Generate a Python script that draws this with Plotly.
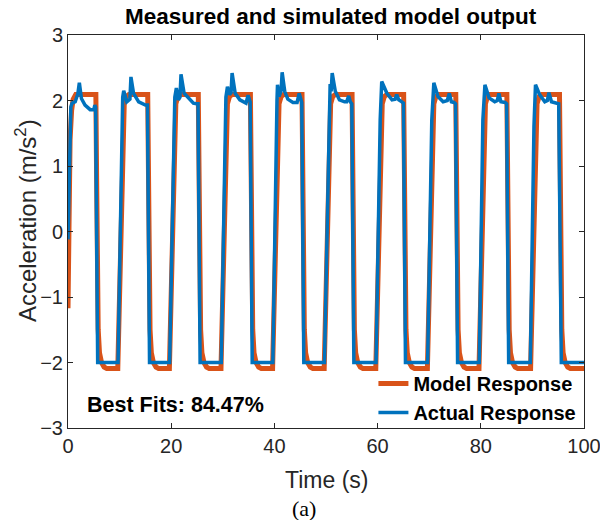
import plotly.graph_objects as go

# ---- data ----
t_model = [0.0, 0.15, 0.4, 0.7, 1.0, 1.5, 5.4, 5.55, 5.7, 5.85, 6.1, 6.5, 7.0, 7.5,
           9.65, 10.1, 10.4, 10.6, 10.9, 11.3, 11.8, 15.45, 15.6, 15.75, 15.9, 16.15, 16.55, 17.05, 17.55,
           19.65, 20.1, 20.4, 20.6, 20.9, 21.3, 21.8, 25.25, 25.4, 25.55, 25.7, 25.95, 26.35, 26.85, 27.35,
           29.65, 30.1, 30.4, 30.6, 30.9, 31.3, 31.8, 35.35, 35.5, 35.65, 35.8, 36.05, 36.45, 36.95, 37.45,
           39.65, 40.1, 40.4, 40.6, 40.9, 41.3, 41.8, 45.35, 45.5, 45.65, 45.8, 46.05, 46.45, 46.95, 47.45,
           49.65, 50.1, 50.4, 50.6, 50.9, 51.3, 51.8, 55.05, 55.2, 55.35, 55.5, 55.75, 56.15, 56.65, 57.15,
           59.65, 60.1, 60.4, 60.6, 60.9, 61.3, 61.8, 65.05, 65.2, 65.35, 65.5, 65.75, 66.15, 66.65, 67.15,
           69.65, 70.1, 70.4, 70.6, 70.9, 71.3, 71.8, 75.15, 75.3, 75.45, 75.6, 75.85, 76.25, 76.75, 77.25,
           79.65, 80.1, 80.4, 80.6, 80.9, 81.3, 81.8, 85.05, 85.2, 85.35, 85.5, 85.75, 86.15, 86.65, 87.15,
           89.65, 90.1, 90.4, 90.6, 90.9, 91.3, 91.8, 95.25, 95.4, 95.55, 95.7, 95.95, 96.35, 96.85, 97.35,
           100.0]
y_model = [-1.17, 0.3, 1.4, 1.85, 2.02, 2.09, 2.09, 0.8, -0.8, -1.5, -1.85, -2.0, -2.07, -2.09,
           -2.09, -0.5, 0.9, 1.6, 1.95, 2.06, 2.09, 2.09, 0.8, -0.8, -1.5, -1.85, -2.0, -2.07, -2.09,
           -2.09, -0.5, 0.9, 1.6, 1.95, 2.06, 2.09, 2.09, 0.8, -0.8, -1.5, -1.85, -2.0, -2.07, -2.09,
           -2.09, -0.5, 0.9, 1.6, 1.95, 2.06, 2.09, 2.09, 0.8, -0.8, -1.5, -1.85, -2.0, -2.07, -2.09,
           -2.09, -0.5, 0.9, 1.6, 1.95, 2.06, 2.09, 2.09, 0.8, -0.8, -1.5, -1.85, -2.0, -2.07, -2.09,
           -2.09, -0.5, 0.9, 1.6, 1.95, 2.06, 2.09, 2.09, 0.8, -0.8, -1.5, -1.85, -2.0, -2.07, -2.09,
           -2.09, -0.5, 0.9, 1.6, 1.95, 2.06, 2.09, 2.09, 0.8, -0.8, -1.5, -1.85, -2.0, -2.07, -2.09,
           -2.09, -0.5, 0.9, 1.6, 1.95, 2.06, 2.09, 2.09, 0.8, -0.8, -1.5, -1.85, -2.0, -2.07, -2.09,
           -2.09, -0.5, 0.9, 1.6, 1.95, 2.06, 2.09, 2.09, 0.8, -0.8, -1.5, -1.85, -2.0, -2.07, -2.09,
           -2.09, -0.5, 0.9, 1.6, 1.95, 2.06, 2.09, 2.09, 0.8, -0.8, -1.5, -1.85, -2.0, -2.07, -2.09,
           -2.09]

t_actual = [0.0, 0.55, 0.8, 1.4, 1.9, 2.2, 2.6, 3.3, 4.3, 5.0, 5.2, 5.35, 5.75,
            9.7, 10.6, 10.8, 11.4, 12.0, 12.2, 12.7, 13.7, 15.0, 15.4, 15.8,
            19.7, 20.7, 21.0, 21.4, 21.7, 21.9, 22.5, 23.3, 24.3, 24.9, 25.2, 25.6,
            29.7, 30.6, 30.9, 31.3, 31.6, 31.8, 32.4, 33.3, 34.5, 34.9, 35.3, 35.7,
            39.7, 40.5, 40.6, 40.9, 41.3, 41.5, 42.0, 42.6, 43.6, 44.4, 44.8, 45.3, 45.7,
            49.7, 50.6, 50.8, 51.0, 51.2, 51.8, 52.6, 53.6, 54.0, 54.4, 54.7, 55.0, 55.4,
            59.7, 60.5, 60.8, 61.8, 62.8, 63.4, 63.7, 64.1, 64.7, 65.0, 65.4,
            69.7, 70.5, 70.9, 71.7, 72.7, 73.5, 73.9, 74.3, 74.8, 75.1, 75.5,
            79.7, 80.4, 80.8, 81.6, 82.7, 83.2, 83.5, 83.9, 84.7, 85.0, 85.4,
            89.6, 90.3, 90.6, 91.4, 92.4, 92.9, 93.2, 93.7, 94.6, 95.1, 95.6,
            100.0]
y_actual = [-0.12, 1.9, 1.96, 1.98, 2.1, 2.27, 2.03, 1.93, 1.86, 1.86, 1.93, 1.9, -2.0,
            -2.0, 2.05, 2.15, 1.98, 2.02, 2.36, 2.11, 1.98, 1.93, 1.93, -2.0,
            -2.0, 2.05, 2.19, 2.01, 2.05, 2.4, 2.11, 2.04, 1.96, 1.95, 1.95, -2.0,
            -2.0, 2.05, 2.21, 2.09, 2.12, 2.42, 2.11, 2.01, 1.96, 2.08, 1.98, -2.0,
            -2.0, 2.0, 2.24, 2.06, 2.15, 2.43, 2.14, 2.02, 1.97, 1.97, 2.11, 1.97, -2.0,
            -2.0, 2.05, 2.25, 2.14, 2.42, 2.14, 2.01, 1.98, 1.98, 2.07, 1.98, 1.95, -2.0,
            -2.0, 1.7, 2.29, 2.11, 2.01, 2.02, 2.09, 2.01, 1.98, 1.96, -2.0,
            -2.0, 1.7, 2.27, 2.06, 1.98, 2.0, 2.11, 1.98, 1.97, 1.95, -2.0,
            -2.0, 1.7, 2.24, 2.04, 1.98, 2.0, 2.11, 1.98, 1.97, 1.95, -2.0,
            -2.0, 1.6, 2.24, 2.09, 1.98, 2.0, 2.12, 1.98, 1.96, 1.95, -2.0,
            -2.0]

x_ticks = [0, 20, 40, 60, 80, 100]
y_ticks = [-3, -2, -1, 0, 1, 2, 3]
series_names = ["Model Response", "Actual Response"]
fit_text = "Best Fits: 84.47%"

FONT = "Liberation Sans, Arial, Helvetica, sans-serif"
AX = "#262626"

fig = go.Figure()
fig.add_trace(go.Scatter(x=t_model, y=y_model, mode="lines", name=series_names[0],
                         line=dict(color="#D95319", width=5)))
fig.add_trace(go.Scatter(x=t_actual, y=y_actual, mode="lines", name=series_names[1],
                         line=dict(color="#0072BD", width=3.5)))

axis_common = dict(showline=True, linecolor=AX, linewidth=1, mirror="ticks",
                   ticks="inside", ticklen=5, tickcolor=AX, tickwidth=1,
                   showgrid=False, zeroline=False, ticklabeloverflow="allow",
                   automargin=False,
                   tickfont=dict(family=FONT, size=20, color=AX))
fig.update_xaxes(range=[0, 100], tickvals=x_ticks, **axis_common)
fig.update_yaxes(range=[-3, 3], tickvals=y_ticks, **axis_common)

fig.update_layout(
    width=600, height=520, autosize=False,
    margin=dict(l=68, r=16, t=35, b=92),
    plot_bgcolor="white", paper_bgcolor="white",
    font=dict(family=FONT, color=AX),
    showlegend=True,
    legend=dict(x=0.995, xanchor="right", y=-0.01, yanchor="bottom",
                bgcolor="rgba(0,0,0,0)", borderwidth=0,
                font=dict(family=FONT, size=20, color="#000000", weight="bold"),
                tracegroupgap=0, itemwidth=30),
    annotations=[
        dict(text="<b>Measured and simulated model output</b>", xref="paper", yref="paper",
             x=0.51, y=1.048, xanchor="center", yanchor="middle", showarrow=False,
             font=dict(family=FONT, size=22.5, color="#000000")),
        dict(text="Time (s)", xref="paper", yref="paper", x=0.5, y=-0.132,
             xanchor="center", yanchor="middle", showarrow=False,
             font=dict(family=FONT, size=23, color=AX)),
        dict(text="Acceleration (m/s<sup>2</sup>)", xref="paper", yref="paper",
             x=-0.081, y=0.527, xanchor="center", yanchor="middle", showarrow=False,
             textangle=-90, font=dict(family=FONT, size=24, color=AX)),
        dict(text="(a)", xref="paper", yref="paper", x=0.457, y=-0.204,
             xanchor="center", yanchor="middle", showarrow=False,
             font=dict(family="Liberation Serif, Times New Roman, serif", size=22, color="#000000")),
        dict(text="<b>" + fit_text + "</b>", xref="x", yref="y", x=3.2, y=-2.65,
             xanchor="left", yanchor="middle", showarrow=False,
             font=dict(family=FONT, size=21.5, color="#000000")),
    ],
)

fig.write_html("out.html")
